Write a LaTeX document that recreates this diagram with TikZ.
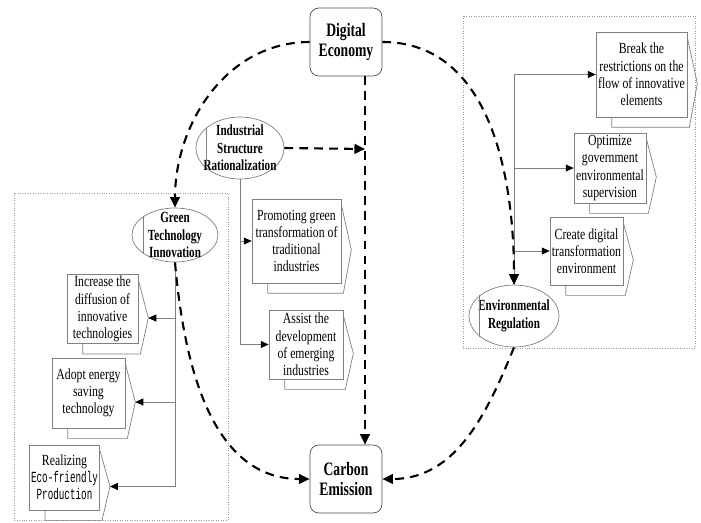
\documentclass[tikz,border=0pt]{standalone}
\usepackage{fontspec}
\setmainfont[FakeStretch=0.76,BoldFeatures={FakeStretch=0.72}]{Liberation Serif}
\newfontfamily\monofont[FakeStretch=0.6]{Liberation Mono}
\usetikzlibrary{shapes.geometric,arrows.meta,calc}

\tikzset{
	cardbox/.style={rectangle,draw=gray,fill=white,align=center,inner sep=1pt,font=\fontsize{8.8}{9.8}\selectfont},
	ovalbox/.style={ellipse,draw=gray,fill=white,inner sep=0pt},
	ovaltext/.style={align=center,inner sep=0pt,font=\bfseries\fontsize{8.8}{9.9}\selectfont},
	mainbox/.style={rectangle,rounded corners=5pt,draw=black!70,fill=white,align=center,minimum width=1.44cm,minimum height=1.36cm,font=\bfseries\fontsize{10.8}{11.8}\selectfont},
	linkline/.style={draw=gray,-{Triangle[black,length=4.5pt,width=4pt]}},
	effectline/.style={line width=1.2pt,dash pattern=on 5pt off 3.5pt,-{Triangle[length=6pt,width=5.5pt]}},
	groupframe/.style={draw=gray!80,densely dotted,thin}
}

\newcommand{\cardback}[1]{%
	\draw[gray] ($(#1.north east)+(0,6)$) -- ($(#1.east)+(10,9)$) coordinate (#1-tip)
		-- ($(#1.south east)+(2,10)$) -- ($(#1.south west)+(16,10)$) -- ($(#1.south west)+(16,0)$);}

\begin{document}
\begin{tikzpicture}[x=0.02cm,y=-0.02cm]
	\useasboundingbox (0,0) rectangle (701,522);
	
	\draw[groupframe] (14,193) rectangle (228,520);
	\draw[groupframe] (463,16) rectangle (695,348);
	
	\begin{scope}
	\node[mainbox] (de) at (346,42) {Digital\\Economy};
	\node[mainbox] (ce) at (346,479) {Carbon\\Emission};
	\node[ovalbox,minimum width=1.76cm,minimum height=1.24cm,label={[ovaltext]center:Industrial\\Structure\\Rationalization}] (isr) at (240,148) {};
	\node[ovalbox,minimum width=1.72cm,minimum height=1.08cm,label={[ovaltext]center:Green\\Technology\\Innovation}] (gti) at (175,235) {};
	\node[ovalbox,minimum width=1.80cm,minimum height=1.24cm,label={[ovaltext]center:Environmental\\Regulation}] (err) at (514,316) {};
	\foreach \n in {isr,gti,err}
		\draw[gray] (\n.149) -- (\n.211);
	\end{scope}
	
	\begin{scope}[every node/.style={cardbox}]
	\node[minimum width=1.82cm,minimum height=1.70cm] (btr) at (641.5,74.5) {Break the\\restrictions on the\\flow of innovative\\elements};
	\node[minimum width=1.44cm,minimum height=1.40cm] (ogs) at (610,168) {Optimize\\government\\environmental\\supervision};
	\node[minimum width=1.46cm,minimum height=1.36cm] (cdt) at (586.5,251) {Create digital\\transformation\\environment};
	\node[minimum width=1.78cm,minimum height=1.68cm] (pgt) at (296.5,241) {Promoting green\\transformation of\\traditional\\industries};
	\node[minimum width=1.48cm,minimum height=1.38cm] (ade) at (306,344.5) {Assist the\\development\\of emerging\\industries};
	\node[minimum width=1.42cm,minimum height=1.36cm] (inc) at (102.5,309) {Increase the\\diffusion of\\innovative\\technologies};
	\node[minimum width=1.46cm,minimum height=1.40cm] (aes) at (88.5,393) {Adopt energy\\saving\\technology};
	\node[minimum width=1.34cm,minimum height=1.30cm] (ecp) at (64.5,477.5) {Realizing\\{\monofont Eco-friendly}\\{\monofont Production}};
	\end{scope}
	\foreach \n in {btr,ogs,cdt,pgt,ade,inc,aes,ecp}
		{\cardback{\n}}
	
	\begin{scope}
	\draw[linkline] (gti.south) |- (inc-tip);
	\draw[linkline] (gti.south) |- (aes-tip);
	\draw[linkline] (gti.south) |- (ecp-tip);
	\draw[linkline] (isr.south) |- (pgt.west);
	\draw[linkline] (isr.south) |- (ade.west);
	\coordinate (rtop) at (btr.west -| err.north);
	\draw[linkline] (rtop) -- (btr.west);
	\draw[linkline] (rtop) |- (ogs.west);
	\draw[linkline] (rtop) |- (cdt.west);
	\draw[linkline] (rtop) -- (err.north);
	
	\coordinate (isrend) at (365,149);
	\draw[effectline] (de.west) to[out=180,in=90] (gti.north);
	\draw[effectline] (de.east) to[out=0,in=90] (err.north);
	\draw[effectline] ([xshift=0.38cm]de.south) -- ([xshift=0.38cm]ce.north);
	\draw[effectline] (isr.east) -- (isrend);
	\draw[effectline] (gti.south) to[out=-85,in=180] (ce.west);
	\draw[effectline] (err.south) to[out=-112,in=0] (ce.east);
	\end{scope}
	
\end{tikzpicture}
\end{document}
